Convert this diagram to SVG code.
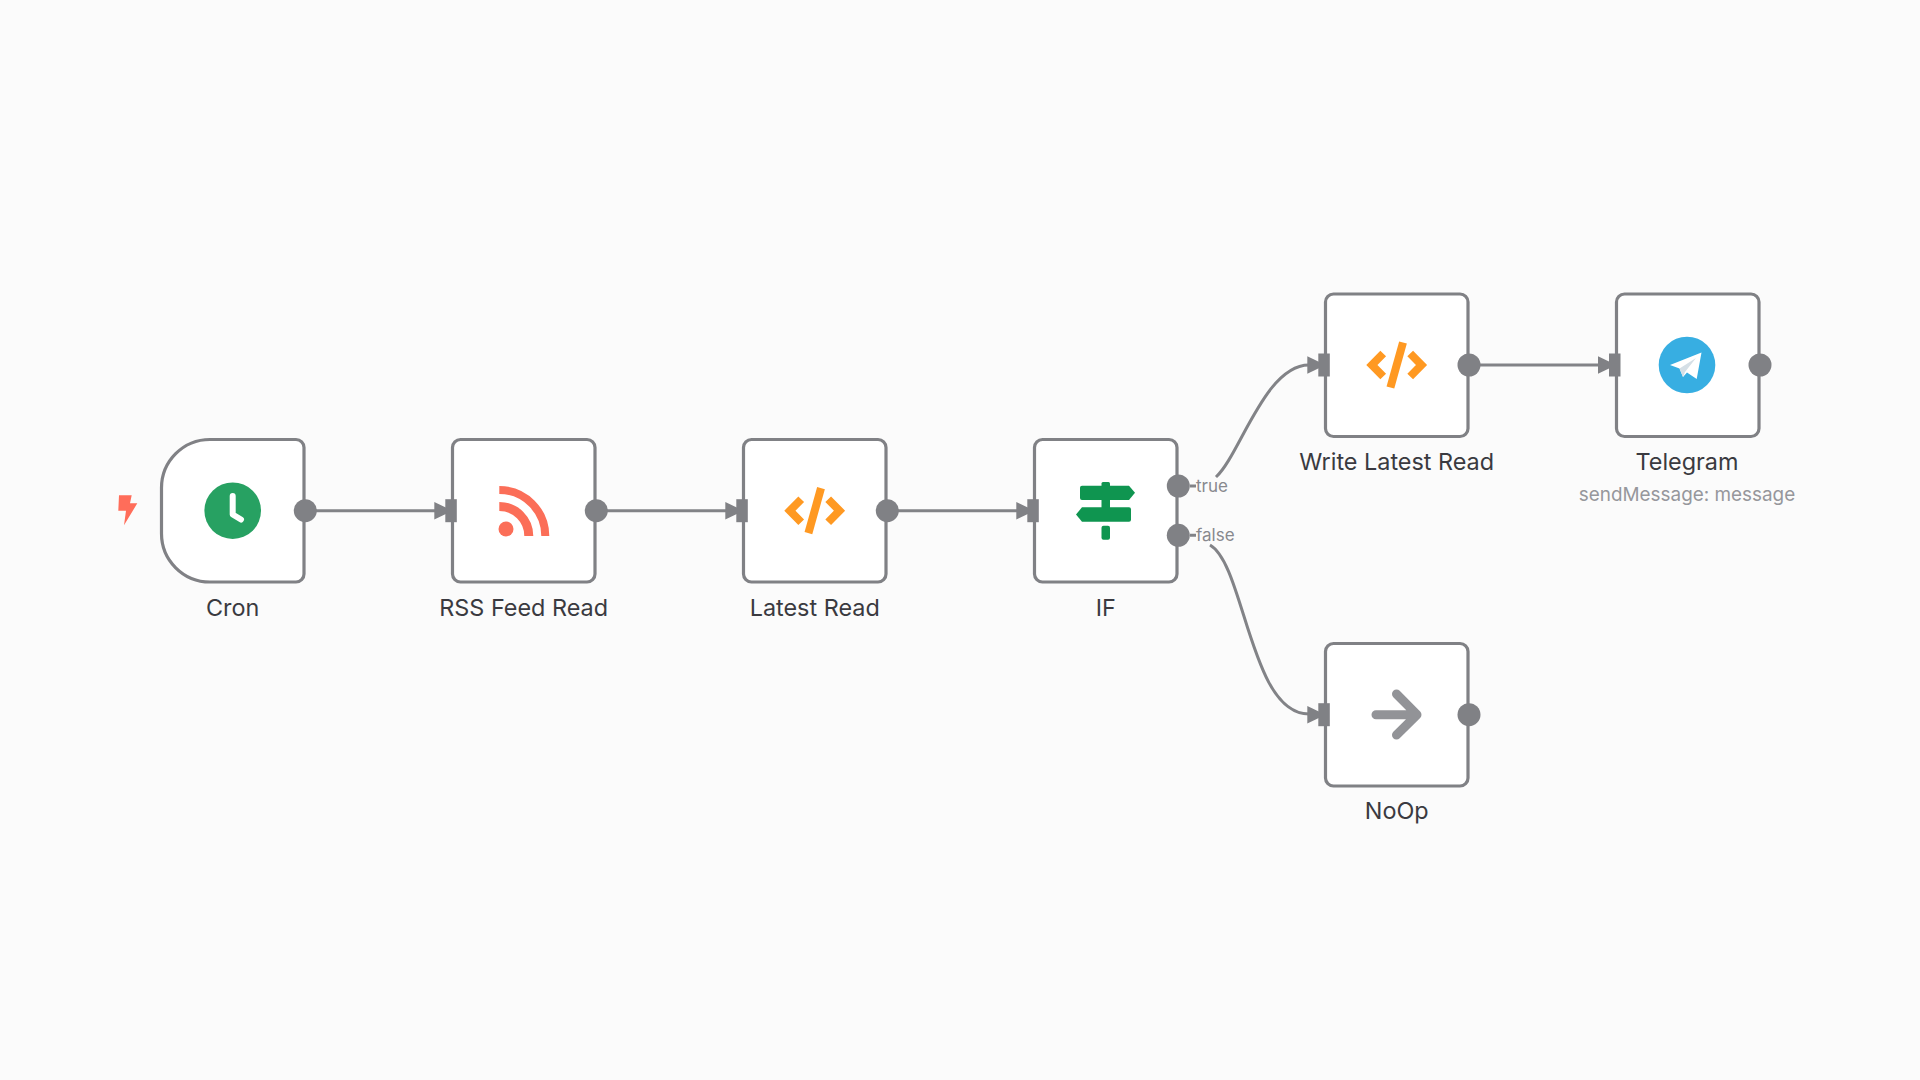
<svg xmlns="http://www.w3.org/2000/svg" width="1920" height="1080" viewBox="0 0 1920 1080">
<style>
.box{fill:#fff;stroke:#808185;stroke-width:3.2}
.port{fill:#808185}
.inp{fill:#808185}
.conn{fill:none;stroke:#828387;stroke-width:3}
.lbl{font-family:Inter,"Liberation Sans",sans-serif;font-size:23.4px;fill:#3a3a40;text-anchor:middle}
.sub{font-family:Inter,"Liberation Sans",sans-serif;font-size:18.9px;fill:#96979c;text-anchor:middle}
.pl{font-family:Inter,"Liberation Sans",sans-serif;font-size:17px;fill:#88898e}
.code{fill:none;stroke:#ff9922;stroke-width:8}
</style>
<defs>
<g id="code"><path class="code" d="M-13.500,-11.500L-24.800,0L-13.500,11.500M13.500,-11.500L24.800,0L13.500,11.500"/><path class="code" d="M6.300,-22.500L-6.300,22.500"/></g>
<g id="in"><rect class="inp" x="0" y="-11.500" width="11.500" height="23"/><path class="inp" d="M1,-3L-11,-8.800V8.800L1,3Z"/></g>
</defs>
<rect width="1920" height="1080" fill="#fbfbfb"/>
<g id="connectors">
<path class="conn" d="M316,510.700H436"/>
<path class="conn" d="M607,510.700H727"/>
<path class="conn" d="M898,510.700H1018"/>
<path class="conn" d="M1471,365H1600"/>
<path class="conn" d="M1216,477C1240,455 1265,365 1309,365"/>
<path class="conn" d="M1210,545C1245,565 1250,714 1309,714"/>
<path class="conn" d="M1190,486H1196M1190,535.300H1196"/>
</g>
<g id="cron">
<path class="box" d="M210,439.500H296A8,8 0 0 1 304,447.500V574A8,8 0 0 1 296,582H210A48.500,48.500 0 0 1 161.500,533.500V488A48.500,48.500 0 0 1 210,439.500Z"/>
<circle cx="232.700" cy="510.700" r="28.300" fill="#27a162"/>
<path d="M232.700,496V514.500L241,519.500" fill="none" stroke="#fff" stroke-width="6" stroke-linecap="round" stroke-linejoin="round"/>
<path d="M119,495.300H131.700L130,503.300H137.300L124,525.300L126,510.700H118.300Z" fill="#ff6d5a"/>
<circle class="port" cx="305.300" cy="510.700" r="11.500"/>
<text class="lbl" x="232.700" y="615.500">Cron</text>
</g>
<g id="rss">
<rect class="box" x="452.500" y="439.500" width="142.500" height="142.500" rx="8"/>
<g fill="none" stroke="#fb6e58"><path d="M499.300,490A46,46 0 0 1 545.300,536" stroke-width="8"/><path d="M499.300,506.500A29.500,29.500 0 0 1 528.800,536" stroke-width="9"/></g>
<circle cx="506" cy="529" r="7.500" fill="#fb6e58"/>
<use href="#in" x="445.300" y="510.700"/>
<circle class="port" cx="596.300" cy="510.700" r="11.500"/>
<text class="lbl" x="523.700" y="615.500">RSS Feed Read</text>
</g>
<g id="latest">
<rect class="box" x="743.500" y="439.500" width="142.500" height="142.500" rx="8"/>
<use href="#code" x="814.700" y="510.700"/>
<use href="#in" x="736.300" y="510.700"/>
<circle class="port" cx="887.300" cy="510.700" r="11.500"/>
<text class="lbl" x="814.700" y="615.500">Latest Read</text>
</g>
<g id="if">
<rect class="box" x="1034.500" y="439.500" width="142.500" height="142.500" rx="8"/>
<g fill="#0f9550">
<rect x="1101.500" y="482" width="8.500" height="6" rx="1.500"/>
<rect x="1101.500" y="498" width="8.500" height="12" rx="1"/>
<rect x="1101.500" y="525.700" width="8.500" height="14" rx="2"/>
<path d="M1082,485.700H1129L1135,492.800L1129,500H1082A2,2 0 0 1 1080,498V487.700A2,2 0 0 1 1082,485.700Z"/>
<path d="M1082,507.300H1129A2,2 0 0 1 1131,509.300V519.700A2,2 0 0 1 1129,521.700H1082L1076,514.500Z"/>
</g>
<use href="#in" x="1027.300" y="510.700"/>
<circle class="port" cx="1178.300" cy="486" r="11.500"/>
<circle class="port" cx="1178.300" cy="535.300" r="11.500"/>
<text class="pl" x="1196" y="491.500">true</text>
<text class="pl" x="1196" y="540.800">false</text>
<text class="lbl" x="1105.700" y="615.500">IF</text>
</g>
<g id="write">
<rect class="box" x="1325.500" y="294" width="142.500" height="142.500" rx="8"/>
<use href="#code" x="1396.700" y="365"/>
<use href="#in" x="1318.300" y="365"/>
<circle class="port" cx="1469" cy="365" r="11.500"/>
<text class="lbl" x="1396.700" y="469.500">Write Latest Read</text>
</g>
<g id="telegram">
<rect class="box" x="1616.500" y="294" width="142.500" height="142.500" rx="8"/>
<circle cx="1687" cy="365" r="28.300" fill="#37aee2"/>
<path d="M1701.500,352.500L1670,365L1679.500,368.500L1683,377L1687,372.500L1696.700,379Z" fill="#fff"/>
<path d="M1679.500,368.500L1683,377L1685,372L1696,358Z" fill="#d5dfe6"/>
<use href="#in" x="1609" y="365"/>
<circle class="port" cx="1760" cy="365" r="11.500"/>
<text class="lbl" x="1687" y="469.500">Telegram</text>
<text class="sub" x="1687" y="500.500">sendMessage: message</text>
</g>
<g id="noop">
<rect class="box" x="1325.500" y="643.500" width="142.500" height="142.500" rx="8"/>
<path d="M1376,714.700H1417M1396.500,694L1417,714.700L1396.500,735" fill="none" stroke="#929397" stroke-width="9" stroke-linecap="round" stroke-linejoin="round"/>
<use href="#in" x="1318.300" y="714.700"/>
<circle class="port" cx="1469" cy="714.700" r="11.500"/>
<text class="lbl" x="1396.700" y="818.500">NoOp</text>
</g>
</svg>
